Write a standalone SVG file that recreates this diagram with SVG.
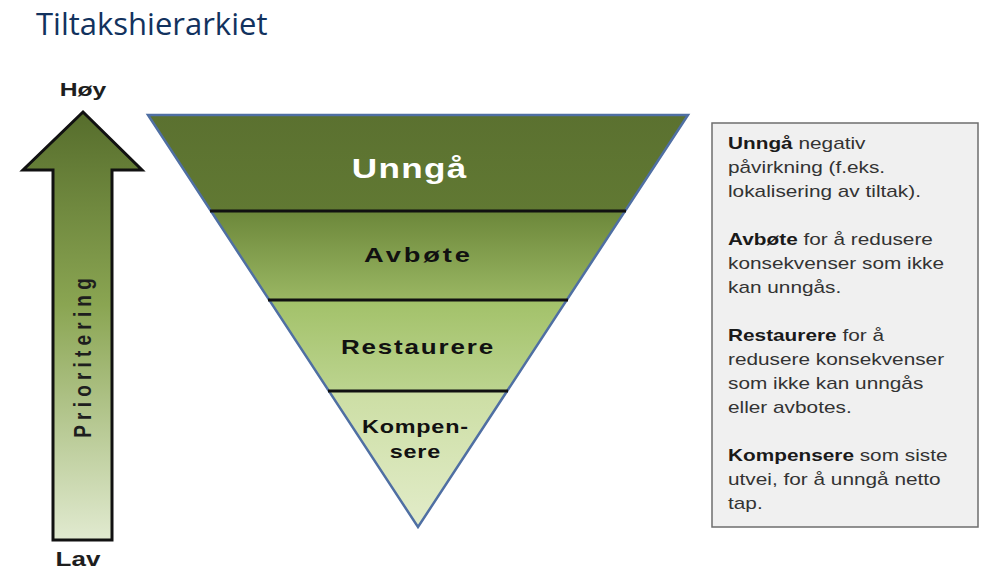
<svg xmlns="http://www.w3.org/2000/svg" width="990" height="575" viewBox="0 0 990 575">
<defs>
<linearGradient id="arrowGrad" x1="0" y1="0" x2="0" y2="1">
<stop offset="0" stop-color="#566d2c"/>
<stop offset="0.45" stop-color="#8aa552"/>
<stop offset="1" stop-color="#e1ead0"/>
</linearGradient>
<linearGradient id="band1" x1="0" y1="0" x2="0" y2="1">
<stop offset="0" stop-color="#5b7130"/>
<stop offset="1" stop-color="#617933"/>
</linearGradient>
<linearGradient id="band2" x1="0" y1="0" x2="0" y2="1">
<stop offset="0" stop-color="#6c873a"/>
<stop offset="1" stop-color="#9ab763"/>
</linearGradient>
<linearGradient id="band3" x1="0" y1="0" x2="0" y2="1">
<stop offset="0" stop-color="#a2c169"/>
<stop offset="1" stop-color="#bcd48f"/>
</linearGradient>
<linearGradient id="band4" x1="0" y1="0" x2="0" y2="1">
<stop offset="0" stop-color="#ccdea4"/>
<stop offset="1" stop-color="#e2ecc9"/>
</linearGradient>
</defs>
<style>
.title{font-family:"Open Sans","Noto Sans",sans-serif;font-size:31px;fill:#12325e}
.lbl{font-family:"Liberation Sans",Arial,sans-serif;font-weight:bold;fill:#1e1e1e}
.tri{font-family:"Liberation Sans",Arial,sans-serif;font-weight:bold;text-anchor:middle}
.box{font-family:"Liberation Sans",Arial,sans-serif;font-size:16px;fill:#333}
.box .b{font-weight:bold;fill:#1a1a1a}
.div{stroke:#111;stroke-width:3}
</style>
<rect width="990" height="575" fill="#ffffff"/>
<text class="title" x="36" y="35">Tiltakshierarkiet</text>

<g id="priority-arrow">
<polygon points="83,112 142,170 112,170 112,540 53,540 53,170 23,170" fill="url(#arrowGrad)" stroke="#111" stroke-width="3" stroke-linejoin="miter"/>
<text class="lbl" font-size="19" letter-spacing="5.2" text-anchor="middle" transform="translate(91,358) scale(1.3,1) rotate(-90)" x="2.6" y="0">Prioritering</text>
</g>
<g id="label-hoy">
<text class="lbl" font-size="19" text-anchor="middle" transform="translate(83,96) scale(1.3,1)">Høy</text>
</g>
<g id="label-lav">
<text class="lbl" font-size="20" text-anchor="middle" transform="translate(78,566) scale(1.3,1)">Lav</text>
</g>

<g id="hierarchy">
<g id="unnga">
<polygon points="148,115 688,115 625,211 211,211" fill="url(#band1)"/>
<text class="tri" transform="translate(409,178) scale(1.3,1)" x="0.5" font-size="27" letter-spacing="1" fill="#ffffff">Unngå</text>
</g>
<g id="avbote">
<polygon points="211,211 625,211 567,300 269,300" fill="url(#band2)"/>
<text class="tri" transform="translate(417,262) scale(1.3,1)" x="1.1" font-size="21" letter-spacing="2.2" fill="#111">Avbøte</text>
</g>
<g id="restaurere">
<polygon points="269,300 567,300 507,391 329,391" fill="url(#band3)"/>
<text class="tri" transform="translate(417,354) scale(1.3,1)" x="0.7" font-size="20" letter-spacing="1.4" fill="#111">Restaurere</text>
</g>
<g id="kompensere">
<polygon points="329,391 507,391 418,527" fill="url(#band4)"/>
<text class="tri" transform="translate(415,433) scale(1.3,1)" x="0.3" font-size="18" letter-spacing="0.6" fill="#111">Kompen-</text>
<text class="tri" transform="translate(415,458) scale(1.3,1)" x="0.3" font-size="18" letter-spacing="0.6" fill="#111">sere</text>
</g>
<polygon points="148,115 688,115 418,527" fill="none" stroke="#4f6fa3" stroke-width="2.5" stroke-linejoin="miter"/>
</g>

<g id="connectors">
<line class="div" x1="210" y1="211" x2="626" y2="211"/>
<line class="div" x1="268" y1="300" x2="568" y2="300"/>
<line class="div" x1="328" y1="391" x2="508" y2="391"/>
</g>

<g id="description-box">
<rect x="712" y="123" width="266" height="404" fill="#f0f0f0" stroke="#6e6e6e" stroke-width="1.5"/>
<g class="box" transform="translate(728,1) scale(1.3,1)">
<text x="0" y="148"><tspan class="b">Unngå</tspan> negativ</text>
<text x="0" y="172">påvirkning (f.eks.</text>
<text x="0" y="196">lokalisering av tiltak).</text>
<text x="0" y="244"><tspan class="b">Avbøte</tspan> for å redusere</text>
<text x="0" y="268">konsekvenser som ikke</text>
<text x="0" y="292">kan unngås.</text>
<text x="0" y="340"><tspan class="b">Restaurere</tspan> for å</text>
<text x="0" y="364">redusere konsekvenser</text>
<text x="0" y="388">som ikke kan unngås</text>
<text x="0" y="412">eller avbotes.</text>
<text x="0" y="460"><tspan class="b">Kompensere</tspan> som siste</text>
<text x="0" y="484">utvei, for å unngå netto</text>
<text x="0" y="508">tap.</text>
</g>
</g>
</svg>
